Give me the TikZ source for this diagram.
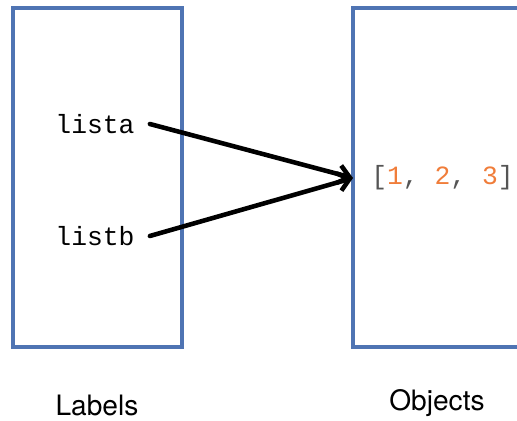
\documentclass[tikz,border=0pt]{standalone}
\usepackage{fontspec}
\setmainfont{TeX Gyre Heros}
\setmonofont{Liberation Mono}
\usetikzlibrary{arrows.meta}

\definecolor{boxblue}{HTML}{4F74B3}
\definecolor{numorange}{HTML}{F07D3A}
\definecolor{codegray}{HTML}{555555}

\begin{document}
\begin{tikzpicture}[x=0.02cm,y=-0.02cm,
  frame/.style={draw=boxblue, line width=2.3pt},
  varname/.style={font=\ttfamily\fontsize{15}{18}\selectfont, inner xsep=0.3cm, inner ysep=0pt},
  caption/.style={font=\fontsize{16}{19}\selectfont, inner sep=0pt},
  ref/.style={-{Straight Barb[length=2.2mm,width=3.6mm]}, line width=2.6pt, line cap=round}]
\useasboundingbox (0,0) rectangle (517,421);

\draw[frame] (13,8) rectangle (182,347);
\draw[frame] (353,8) rectangle (540,347);

\node[varname] (lista) at (95,124) {lista};
\node[varname] (listb) at (95,236) {listb};
\node[varname, inner xsep=0.36cm, anchor=west] (obj) at (353,178)
  {\color{codegray}[\textcolor{numorange}{1}, \textcolor{numorange}{2}, \textcolor{numorange}{3}]};

\draw[ref] (lista.east) -- (obj.west);
\draw[ref] (listb.east) -- (obj.west);

\node[caption] (labels) at (97,405) {Labels};
\node[caption] (objects) at (437,403) {Objects};
\end{tikzpicture}
\end{document}
